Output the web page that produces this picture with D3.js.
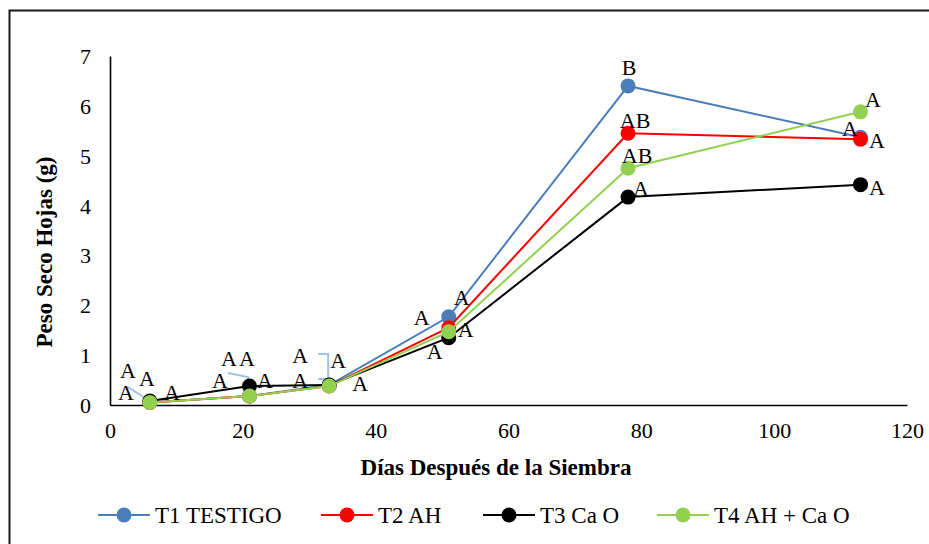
<!DOCTYPE html>
<html><head><meta charset="utf-8">
<script src="https://cdn.jsdelivr.net/npm/d3@7"></script>
<style>
html,body{margin:0;padding:0;background:#fff;}
svg{display:block;}
text{font-family:"Liberation Serif","Times New Roman",serif;}
</style></head>
<body>
<svg id="chart" width="929" height="544"></svg>
<script>
// ---- data ----
const days = [6, 21, 33, 51, 78, 113];
const seriesNames = ["T1 TESTIGO", "T2 AH", "T3 Ca O", "T4 AH + Ca O"];
const seriesColors = ["#4a7ebb", "#ff0000", "#000000", "#92d050"];
const t1 = [0.05, 0.18, 0.40, 1.77, 6.40, 5.37];
const t2 = [0.05, 0.18, 0.38, 1.55, 5.45, 5.33];
const t3 = [0.08, 0.38, 0.40, 1.35, 4.17, 4.42];
const t4 = [0.05, 0.18, 0.38, 1.47, 4.75, 5.88];
const t1Labels = ["A", "A", "A", "A", "B", "A"];
const t2Labels = ["A", "A", "A", "A", "AB", "A"];
const t3Labels = ["A", "A", "A", "A", "A", "A"];
const t4Labels = ["A", "A", "A", "A", "AB", "A"];
const xTicks = [0, 20, 40, 60, 80, 100, 120];
const yTicks = [0, 1, 2, 3, 4, 5, 6, 7];
// label placement: pixel offsets of label centre from its point, [day][series] (style only)
const labelOffsets = [
  [[-22, -32.5], [-3, -24.5], [-24, -9], [22, -10.5]],
  [[-20.5, -38], [-2.5, -38], [-29.5, -6], [15.5, -16]],
  [[-29, -30], [9, -26], [-29, -5], [31, -3]],
  [[13, -19], [-27, -10], [-14, 14], [17, -2]],
  [[1, -18], [7, -13], [13, -9], [9, -13]],
  [[-10.6, -9], [16.4, 1], [16.4, 2.4], [12.4, -12]]
];
const leaders = [ // [dayIndex, seriesIndex, kind]
  [0, 2, "diag"], [1, 0, "elbow"], [2, 0, "bracket"], [2, 2, "bracket"]
];

const allSeries = [t1, t2, t3, t4];
const allLabels = [t1Labels, t2Labels, t3Labels, t4Labels];

const svg = d3.select("#chart");
const x = d3.scaleLinear().domain([0, 120]).range([110, 907]);
const y = d3.scaleLinear().domain([0, 7]).range([405, 56]);

// outer frame
svg.append("rect").attr("x", 9.5).attr("y", 10.5).attr("width", 940).attr("height", 560)
  .attr("fill", "none").attr("stroke", "#1a1a1a").attr("stroke-width", 2);

// axes
const gy = svg.append("g").attr("transform", "translate(110,0)")
  .call(d3.axisLeft(y).tickValues(yTicks).tickSize(0).tickPadding(19).tickFormat(d3.format("d")));
const gx = svg.append("g").attr("transform", "translate(0,405)")
  .call(d3.axisBottom(x).tickValues(xTicks).tickSize(0).tickPadding(17).tickFormat(d3.format("d")));
[gy, gx].forEach(g => {
  g.select(".domain").attr("stroke", "#000").attr("stroke-width", 1.6);
  g.selectAll("text").attr("font-size", 22).attr("fill", "#000");
});
gy.selectAll("text").attr("dy", "0.34em");

// axis titles
svg.append("text").attr("transform", "translate(52,252) rotate(-90)")
  .attr("text-anchor", "middle").attr("font-size", 23).attr("font-weight", "bold")
  .text("Peso Seco Hojas (g)");
svg.append("text").attr("x", 496).attr("y", 475)
  .attr("text-anchor", "middle").attr("font-size", 23).attr("font-weight", "bold")
  .text("Días Después de la Siembra");

// leaders
const lbl = (di, si) => [x(days[di]) + labelOffsets[di][si][0], y(allSeries[si][di]) + labelOffsets[di][si][1]];
leaders.forEach(([di, si, kind]) => {
  const [lx, ly] = lbl(di, si);
  const px = x(days[di]), py = y(allSeries[si][di]);
  let pts;
  if (kind === "diag") pts = [[lx + 2, ly - 5], [px, py]];
  else if (kind === "elbow") pts = [[lx - 1, ly + 15], [px - 1.5, ly + 19], [px, py - 3]];
  else pts = [[lx + 18, ly - 1], [px - 1, ly - 1], [px - 1, py - 4]];
  svg.append("path").attr("d", d3.line()(pts)).attr("fill", "none")
    .attr("stroke", "#9dc3e6").attr("stroke-width", 2);
});

// series
const line = d3.line().x((d, i) => x(days[i])).y(d => y(d));
allSeries.forEach((s, si) => {
  const g = svg.append("g");
  g.append("path").attr("d", line(s)).attr("fill", "none")
    .attr("stroke", seriesColors[si]).attr("stroke-width", 2);
  g.selectAll("circle").data(s).join("circle")
    .attr("cx", (d, i) => x(days[i])).attr("cy", d => y(d)).attr("r", 7.5)
    .attr("fill", seriesColors[si]);
});

// labels
allLabels.forEach((labs, si) => {
  labs.forEach((t, di) => {
    const [lx, ly] = lbl(di, si);
    svg.append("text").attr("x", lx).attr("y", ly + 7.5)
      .attr("text-anchor", "middle").attr("font-size", 22).attr("fill", "#000").text(t);
  });
});

// legend
const legX = [98, 321, 483, 657];
seriesNames.forEach((n, i) => {
  const g = svg.append("g").attr("transform", `translate(${legX[i]},515)`);
  g.append("line").attr("x1", 0).attr("x2", 52).attr("stroke", seriesColors[i]).attr("stroke-width", 2);
  g.append("circle").attr("cx", 26).attr("r", 7.5).attr("fill", seriesColors[i]);
  g.append("text").attr("x", 57).attr("y", 8).attr("font-size", 23).text(n);
});
</script>
</body></html>
